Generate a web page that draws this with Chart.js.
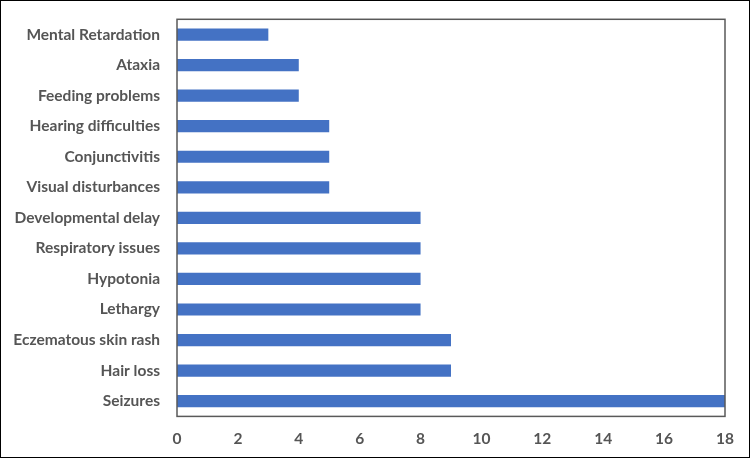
<!DOCTYPE html>
<html>
<head>
<meta charset="utf-8">
<script src="https://cdn.jsdelivr.net/npm/chart.js@4/dist/chart.umd.min.js"></script>
<style>
  html, body { margin: 0; padding: 0; background: #fff; }
  #box { width: 750px; height: 458px; box-sizing: border-box; border: 1.5px solid #000; position: relative; }
  #grafico { position: absolute; left: 0; top: 0; }
</style>
</head>
<body>
<div id="box"><canvas id="grafico" width="747" height="455"></canvas></div>
<script>
// dados do gráfico
const sintomas = ['Mental Retardation', 'Ataxia', 'Feeding problems', 'Hearing difficulties', 'Conjunctivitis',
  'Visual disturbances', 'Developmental delay', 'Respiratory issues', 'Hypotonia', 'Lethargy',
  'Eczematous skin rash', 'Hair loss', 'Seizures'];
const casos = [3, 4, 4, 5, 5, 5, 8, 8, 8, 8, 9, 9, 18];
const ticksX = [0, 2, 4, 6, 8, 10, 12, 14, 16, 18];

// moldura da área do gráfico
const moldura = {
  id: 'moldura',
  afterDraw(chart) {
    const { ctx, chartArea: a } = chart;
    ctx.save();
    ctx.strokeStyle = '#595959';
    ctx.lineWidth = 1.5;
    ctx.strokeRect(a.left, a.top, a.right - a.left, a.bottom - a.top);
    ctx.restore();
  }
};

const fonte = { family: 'Lato, "Liberation Sans", sans-serif', weight: 'bold', size: 15.5 };

new Chart(document.getElementById('grafico').getContext('2d'), {
  type: 'bar',
  data: {
    labels: sintomas,
    datasets: [{
      data: casos,
      backgroundColor: '#4472c4',
      barPercentage: 0.4,
      categoryPercentage: 1
    }]
  },
  options: {
    indexAxis: 'y',
    responsive: false,
    animation: false,
    layout: { padding: { top: 3, right: 23, bottom: 3, left: 0 } },
    plugins: { legend: { display: false }, tooltip: { enabled: false } },
    scales: {
      x: {
        min: 0, max: 18,
        afterBuildTicks: s => { s.ticks = ticksX.map(v => ({ value: v })); },
        grid: { display: false },
        border: { display: false },
        ticks: { color: '#555', font: fonte, padding: 5 }
      },
      y: {
        grid: { display: false },
        border: { display: false },
        ticks: { color: '#555', font: fonte, padding: 9 },
        afterFit: s => { s.width = 176; }
      }
    }
  },
  plugins: [moldura]
});
</script>
</body>
</html>
